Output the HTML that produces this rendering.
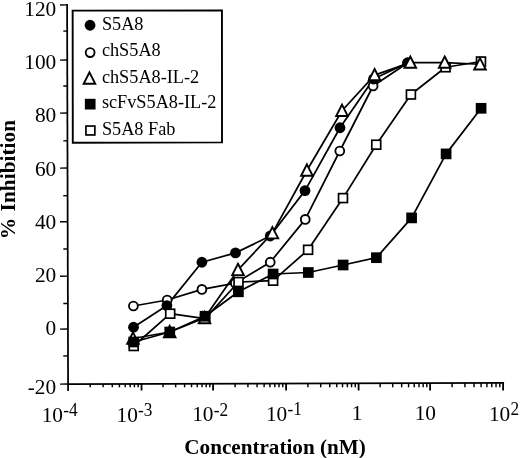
<!DOCTYPE html><html><head><meta charset="utf-8"><style>html,body{margin:0;padding:0;background:#fff}body{width:520px;height:458px;overflow:hidden;font-family:"Liberation Serif",serif}</style></head><body><svg width="520" height="458" viewBox="0 0 520 458" style="display:block;will-change:transform">
<rect width="520" height="458" fill="#fff"/>
<g stroke="#000" stroke-width="1.75" fill="none" stroke-linecap="butt">
<path d="M67.10 4.1 L68.10 390.9"/>
<path d="M67.20 384.00 L504.05 382.95"/>
</g>
<g stroke="#000" stroke-width="1.45" fill="none">
<path d="M60.0 5.00 L67.10 4.90"/>
<path d="M60.0 60.10 L67.24 60.00"/>
<path d="M60.0 113.15 L67.38 113.05"/>
<path d="M60.0 168.10 L67.52 168.00"/>
<path d="M60.0 221.80 L67.66 221.70"/>
<path d="M60.0 276.25 L67.80 276.15"/>
<path d="M60.0 329.15 L67.94 329.05"/>
<path d="M60.0 384.10 L68.08 384.00"/>
<path d="M63.3 31.10 L67.17 31.05"/>
<path d="M63.3 86.05 L67.31 86.00"/>
<path d="M63.3 140.85 L67.45 140.80"/>
<path d="M63.3 195.70 L67.60 195.65"/>
<path d="M63.3 249.02 L67.73 248.97"/>
<path d="M63.3 303.51 L67.87 303.46"/>
<path d="M63.3 355.95 L68.01 355.90"/>
<path d="M90.20 383.95 V387.3"/>
<path d="M103.12 383.92 V387.3"/>
<path d="M112.29 383.89 V387.3"/>
<path d="M119.40 383.88 V387.3"/>
<path d="M125.22 383.86 V387.3"/>
<path d="M130.13 383.85 V387.3"/>
<path d="M134.39 383.84 V387.3"/>
<path d="M138.14 383.83 V387.3"/>
<path d="M141.50 383.82 L141.52 390.4" stroke-width="1.8"/>
<path d="M163.05 383.77 V387.3"/>
<path d="M175.66 383.74 V387.3"/>
<path d="M184.61 383.72 V387.3"/>
<path d="M191.55 383.70 V387.3"/>
<path d="M197.22 383.69 V387.3"/>
<path d="M202.01 383.68 V387.3"/>
<path d="M206.16 383.67 V387.3"/>
<path d="M209.82 383.66 V387.3"/>
<path d="M213.10 383.65 L213.12 390.4" stroke-width="1.8"/>
<path d="M235.08 383.60 V387.3"/>
<path d="M247.93 383.57 V387.3"/>
<path d="M257.05 383.54 V387.3"/>
<path d="M264.12 383.53 V387.3"/>
<path d="M269.91 383.51 V387.3"/>
<path d="M274.79 383.50 V387.3"/>
<path d="M279.03 383.49 V387.3"/>
<path d="M282.76 383.48 V387.3"/>
<path d="M286.10 383.47 L286.12 390.4" stroke-width="1.8"/>
<path d="M307.92 383.42 V387.3"/>
<path d="M320.69 383.39 V387.3"/>
<path d="M329.75 383.37 V387.3"/>
<path d="M336.78 383.35 V387.3"/>
<path d="M342.52 383.34 V387.3"/>
<path d="M347.37 383.33 V387.3"/>
<path d="M351.57 383.32 V387.3"/>
<path d="M355.28 383.31 V387.3"/>
<path d="M358.60 383.30 L358.62 390.4" stroke-width="1.8"/>
<path d="M380.12 383.25 V387.3"/>
<path d="M392.71 383.22 V387.3"/>
<path d="M401.65 383.19 V387.3"/>
<path d="M408.58 383.18 V387.3"/>
<path d="M414.24 383.16 V387.3"/>
<path d="M419.02 383.15 V387.3"/>
<path d="M423.17 383.14 V387.3"/>
<path d="M426.83 383.13 V387.3"/>
<path d="M430.10 383.13 L430.12 390.4" stroke-width="1.8"/>
<path d="M452.08 383.07 V387.3"/>
<path d="M464.93 383.04 V387.3"/>
<path d="M474.05 383.02 V387.3"/>
<path d="M481.12 383.00 V387.3"/>
<path d="M486.91 382.99 V387.3"/>
<path d="M491.79 382.98 V387.3"/>
<path d="M496.03 382.97 V387.3"/>
<path d="M499.76 382.96 V387.3"/>
<path d="M503.10 382.95 L503.12 390.4" stroke-width="1.8"/>
</g>
<g stroke="#000" stroke-width="1.75" fill="none" stroke-linejoin="round">
<path d="M133.70 346.00 L170.20 313.70 L205.00 318.70 L238.50 282.00 L273.10 280.70 L308.10 249.80 L343.00 198.10 L376.25 144.70 L410.90 94.50 L445.60 67.25 L481.00 61.50"/>
<path d="M133.40 306.00 L167.20 300.00 L201.90 289.40 L235.30 283.20 L270.25 262.20 L305.25 219.40 L339.80 151.00 L373.10 86.00 L407.50 63.00"/>
<path d="M133.50 327.25 L166.90 305.60 L201.90 262.25 L235.50 252.90 L270.20 236.00 L305.00 190.60 L340.00 127.75 L373.50 79.00 L407.70 62.75"/>
<path d="M133.00 338.50 L169.70 332.00 L204.50 318.00 L238.00 269.90 L272.40 233.20 L306.90 170.50 L342.00 110.75 L374.60 75.10 L410.30 62.60 L444.70 62.60 L480.00 64.25"/>
<path d="M133.70 342.00 L169.75 332.00 L205.10 316.25 L238.40 291.80 L273.10 274.00 L308.30 272.50 L343.10 265.00 L376.40 257.70 L411.60 217.90 L446.10 153.90 L481.10 108.30"/>
</g>
<circle cx="133.40" cy="306.00" r="4.42" fill="#fff" stroke="#000" stroke-width="1.85"/>
<circle cx="167.20" cy="300.00" r="4.42" fill="#fff" stroke="#000" stroke-width="1.85"/>
<circle cx="201.90" cy="289.40" r="4.42" fill="#fff" stroke="#000" stroke-width="1.85"/>
<circle cx="235.30" cy="283.20" r="4.42" fill="#fff" stroke="#000" stroke-width="1.85"/>
<circle cx="270.25" cy="262.20" r="4.42" fill="#fff" stroke="#000" stroke-width="1.85"/>
<circle cx="305.25" cy="219.40" r="4.42" fill="#fff" stroke="#000" stroke-width="1.85"/>
<circle cx="339.80" cy="151.00" r="4.42" fill="#fff" stroke="#000" stroke-width="1.85"/>
<circle cx="373.10" cy="86.00" r="4.42" fill="#fff" stroke="#000" stroke-width="1.85"/>
<circle cx="407.50" cy="63.00" r="4.42" fill="#fff" stroke="#000" stroke-width="1.85"/>
<circle cx="133.50" cy="327.25" r="5.40" fill="#000"/>
<circle cx="166.90" cy="305.60" r="5.40" fill="#000"/>
<circle cx="201.90" cy="262.25" r="5.40" fill="#000"/>
<circle cx="235.50" cy="252.90" r="5.40" fill="#000"/>
<circle cx="270.20" cy="236.00" r="5.40" fill="#000"/>
<circle cx="305.00" cy="190.60" r="5.40" fill="#000"/>
<circle cx="340.00" cy="127.75" r="5.40" fill="#000"/>
<circle cx="373.50" cy="79.00" r="5.40" fill="#000"/>
<circle cx="407.70" cy="62.75" r="5.40" fill="#000"/>
<rect x="129.25" y="341.55" width="8.90" height="8.90" fill="#fff" stroke="#000" stroke-width="1.7"/>
<rect x="165.75" y="309.25" width="8.90" height="8.90" fill="#fff" stroke="#000" stroke-width="1.7"/>
<rect x="200.55" y="314.25" width="8.90" height="8.90" fill="#fff" stroke="#000" stroke-width="1.7"/>
<rect x="234.05" y="277.55" width="8.90" height="8.90" fill="#fff" stroke="#000" stroke-width="1.7"/>
<rect x="268.65" y="276.25" width="8.90" height="8.90" fill="#fff" stroke="#000" stroke-width="1.7"/>
<rect x="303.65" y="245.35" width="8.90" height="8.90" fill="#fff" stroke="#000" stroke-width="1.7"/>
<rect x="338.55" y="193.65" width="8.90" height="8.90" fill="#fff" stroke="#000" stroke-width="1.7"/>
<rect x="371.80" y="140.25" width="8.90" height="8.90" fill="#fff" stroke="#000" stroke-width="1.7"/>
<rect x="406.45" y="90.05" width="8.90" height="8.90" fill="#fff" stroke="#000" stroke-width="1.7"/>
<rect x="441.15" y="62.80" width="8.90" height="8.90" fill="#fff" stroke="#000" stroke-width="1.7"/>
<rect x="476.55" y="57.05" width="8.90" height="8.90" fill="#fff" stroke="#000" stroke-width="1.7"/>
<path d="M133.00 332.40 L138.80 343.70 L127.20 343.70 Z" fill="#fff" stroke="#000" stroke-width="1.9" stroke-linejoin="miter"/>
<path d="M169.70 325.90 L175.50 337.20 L163.90 337.20 Z" fill="#fff" stroke="#000" stroke-width="1.9" stroke-linejoin="miter"/>
<path d="M204.50 311.90 L210.30 323.20 L198.70 323.20 Z" fill="#fff" stroke="#000" stroke-width="1.9" stroke-linejoin="miter"/>
<path d="M238.00 263.80 L243.80 275.10 L232.20 275.10 Z" fill="#fff" stroke="#000" stroke-width="1.9" stroke-linejoin="miter"/>
<path d="M272.40 227.10 L278.20 238.40 L266.60 238.40 Z" fill="#fff" stroke="#000" stroke-width="1.9" stroke-linejoin="miter"/>
<path d="M306.90 164.40 L312.70 175.70 L301.10 175.70 Z" fill="#fff" stroke="#000" stroke-width="1.9" stroke-linejoin="miter"/>
<path d="M342.00 104.65 L347.80 115.95 L336.20 115.95 Z" fill="#fff" stroke="#000" stroke-width="1.9" stroke-linejoin="miter"/>
<path d="M374.60 69.00 L380.40 80.30 L368.80 80.30 Z" fill="#fff" stroke="#000" stroke-width="1.9" stroke-linejoin="miter"/>
<path d="M410.30 56.50 L416.10 67.80 L404.50 67.80 Z" fill="#fff" stroke="#000" stroke-width="1.9" stroke-linejoin="miter"/>
<path d="M444.70 56.50 L450.50 67.80 L438.90 67.80 Z" fill="#fff" stroke="#000" stroke-width="1.9" stroke-linejoin="miter"/>
<path d="M480.00 58.15 L485.80 69.45 L474.20 69.45 Z" fill="#fff" stroke="#000" stroke-width="1.9" stroke-linejoin="miter"/>
<rect x="128.35" y="336.65" width="10.70" height="10.70" fill="#000"/>
<rect x="164.40" y="326.65" width="10.70" height="10.70" fill="#000"/>
<rect x="199.75" y="310.90" width="10.70" height="10.70" fill="#000"/>
<rect x="233.05" y="286.45" width="10.70" height="10.70" fill="#000"/>
<rect x="267.75" y="268.65" width="10.70" height="10.70" fill="#000"/>
<rect x="302.95" y="267.15" width="10.70" height="10.70" fill="#000"/>
<rect x="337.75" y="259.65" width="10.70" height="10.70" fill="#000"/>
<rect x="371.05" y="252.35" width="10.70" height="10.70" fill="#000"/>
<rect x="406.25" y="212.55" width="10.70" height="10.70" fill="#000"/>
<rect x="440.75" y="148.55" width="10.70" height="10.70" fill="#000"/>
<rect x="475.75" y="102.95" width="10.70" height="10.70" fill="#000"/>
<path d="M72.65 10.6 L221.95 10.4 L222.0 142.4 L72.8 142.7 Z" fill="#fff" stroke="#000" stroke-width="1.9"/>
<circle cx="90.05" cy="25.25" r="5.40" fill="#000"/>
<circle cx="90.15" cy="52.60" r="4.42" fill="#fff" stroke="#000" stroke-width="1.85"/>
<path d="M89.45 72.40 L95.25 83.70 L83.65 83.70 Z" fill="#fff" stroke="#000" stroke-width="1.9" stroke-linejoin="miter"/>
<rect x="84.85" y="98.80" width="10.70" height="10.70" fill="#000"/>
<rect x="85.95" y="126.05" width="8.90" height="8.90" fill="#fff" stroke="#000" stroke-width="1.7"/>
<g font-family="Liberation Serif, serif" font-size="18.25" fill="#000">
<text x="101.9" y="29.8">S5A8</text>
<text x="101.9" y="56.4">chS5A8</text>
<text x="101.9" y="82.7">chS5A8-IL-2</text>
<text x="101.9" y="108.3">scFvS5A8-IL-2</text>
<text x="101.9" y="134.9">S5A8 Fab</text>
</g>
<g font-family="Liberation Serif, serif" font-size="22" fill="#000" text-anchor="end">
<text transform="translate(56.2 16.00) scale(0.97 1)">120</text>
<text transform="translate(56.2 69.00) scale(0.97 1)">100</text>
<text transform="translate(56.2 121.50) scale(0.97 1)">80</text>
<text transform="translate(56.2 175.60) scale(0.97 1)">60</text>
<text transform="translate(56.2 229.20) scale(0.97 1)">40</text>
<text transform="translate(56.2 281.50) scale(0.97 1)">20</text>
<text transform="translate(56.2 335.00) scale(0.97 1)">0</text>
<text transform="translate(56.2 394.40) scale(0.97 1)">-20</text>
</g>
<g font-family="Liberation Serif, serif" font-size="22" fill="#000">
<text transform="translate(41.70 422) scale(0.97 1)">10<tspan font-size="17.8" dy="-5.7" dx="0.2">-4</tspan></text>
<text transform="translate(116.50 421.8) scale(0.97 1)">10<tspan font-size="17.8" dy="-5.7" dx="0.2">-3</tspan></text>
<text transform="translate(192.20 421.3) scale(0.97 1)">10<tspan font-size="17.8" dy="-5.7" dx="0.2">-2</tspan></text>
<text transform="translate(265.90 420.8) scale(0.97 1)">10<tspan font-size="17.8" dy="-5.7" dx="0.2">-1</tspan></text>
<text transform="translate(414.70 419.8) scale(0.97 1)">10</text>
<text transform="translate(488.90 420.5) scale(0.97 1)">10<tspan font-size="17.8" dy="-5.7" dx="0.2">2</tspan></text>
<text x="351.5" y="419.6">1</text>
</g>
<text x="184.3" y="454.2" font-family="Liberation Serif, serif" font-weight="bold" font-size="21.15">Concentration (nM)</text>
<text transform="translate(15.0 239.3) rotate(-90)" font-family="Liberation Serif, serif" font-weight="bold" font-size="21.4">%</text>
<text transform="translate(15.0 211.4) rotate(-90)" font-family="Liberation Serif, serif" font-weight="bold" font-size="21.4">Inhibition</text>
</svg></body></html>
